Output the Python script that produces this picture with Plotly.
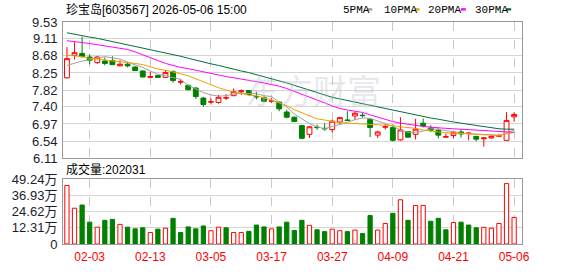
import plotly.graph_objects as go

# ---------------- data ----------------
dates = ['01-29', '01-30', '02-02', '02-03', '02-04', '02-05', '02-06', '02-09', '02-10', '02-11',
         '02-12', '02-13', '02-24', '02-25', '02-26', '02-27', '03-02', '03-03', '03-04', '03-05',
         '03-06', '03-09', '03-10', '03-11', '03-12', '03-13', '03-16', '03-17', '03-18', '03-19',
         '03-20', '03-23', '03-24', '03-25', '03-26', '03-27', '03-30', '03-31', '04-01', '04-02',
         '04-03', '04-07', '04-08', '04-09', '04-10', '04-13', '04-14', '04-15', '04-16', '04-17',
         '04-20', '04-21', '04-22', '04-23', '04-24', '04-27', '04-28', '04-29', '04-30', '05-06']

opens = [8.13, 8.69, 8.74, 8.65, 8.51, 8.55, 8.56, 8.43, 8.47, 8.40,
         8.30, 8.14, 8.19, 8.14, 8.28, 8.02, 7.94, 7.87, 7.62, 7.52,
         7.51, 7.62, 7.68, 7.78, 7.81, 7.66, 7.63, 7.54, 7.52, 7.27,
         7.14, 6.93, 6.71, 6.89, 6.86, 6.83, 7.02, 7.07, 7.17, 7.19,
         7.09, 6.69, 6.89, 6.88, 6.57, 6.78, 6.71, 6.99, 6.87, 6.81,
         6.64, 6.68, 6.77, 6.73, 6.66, 6.60, 6.62, 6.66, 6.56, 7.15]
highs = [8.90, 9.03, 9.16, 8.72, 8.68, 8.64, 8.67, 8.57, 8.53, 8.42,
         8.32, 8.28, 8.20, 8.32, 8.32, 8.09, 7.96, 7.90, 7.65, 7.61,
         7.70, 7.72, 7.86, 7.84, 7.81, 7.78, 7.67, 7.62, 7.53, 7.33,
         7.16, 6.95, 6.91, 6.95, 6.99, 7.08, 7.15, 7.29, 7.27, 7.25,
         7.11, 6.80, 6.97, 6.96, 7.14, 6.78, 7.10, 7.11, 6.94, 6.86,
         6.73, 6.79, 6.84, 6.76, 6.66, 6.63, 6.69, 6.72, 7.27, 7.26]
lows = [8.11, 8.59, 8.64, 8.47, 8.48, 8.44, 8.45, 8.42, 8.39, 8.30,
        8.14, 8.13, 8.13, 8.12, 8.01, 7.96, 7.82, 7.60, 7.40, 7.46,
        7.48, 7.57, 7.67, 7.70, 7.69, 7.59, 7.52, 7.50, 7.29, 7.11,
        7.02, 6.59, 6.62, 6.82, 6.80, 6.76, 6.95, 7.06, 7.07, 7.13,
        6.64, 6.62, 6.83, 6.53, 6.55, 6.63, 6.58, 6.88, 6.77, 6.61,
        6.63, 6.61, 6.63, 6.56, 6.54, 6.40, 6.60, 6.64, 6.55, 7.03]
closes = [8.61, 8.76, 8.66, 8.57, 8.65, 8.49, 8.46, 8.47, 8.43, 8.31,
          8.15, 8.16, 8.14, 8.26, 8.06, 8.03, 7.83, 7.66, 7.46, 7.53,
          7.64, 7.63, 7.78, 7.80, 7.71, 7.65, 7.54, 7.55, 7.35, 7.14,
          7.03, 6.61, 6.90, 6.88, 6.85, 7.04, 7.13, 7.06, 7.24, 7.18,
          6.88, 6.77, 6.90, 6.56, 6.82, 6.64, 6.84, 6.92, 6.81, 6.69,
          6.65, 6.75, 6.72, 6.74, 6.59, 6.62, 6.66, 6.68, 7.06, 7.21]

# volume in 万 (10k)
volume_wan = [44.5, 27.2, 29.6, 16.6, 12.8, 18.0, 18.7, 14.9, 12.8, 11.5,
              12.3, 8.7, 11.3, 12.0, 19.5, 8.7, 13.0, 11.5, 13.7, 10.1,
              12.8, 12.3, 8.7, 8.7, 9.6, 14.4, 13.0, 11.5, 13.0, 16.6,
              10.3, 18.0, 14.2, 10.8, 9.4, 11.3, 10.1, 9.4, 10.6, 7.9,
              21.6, 10.6, 15.6, 23.3, 33.6, 18.0, 29.3, 29.3, 17.3, 19.5,
              10.8, 16.3, 16.6, 14.4, 12.3, 12.7, 12.0, 15.6, 45.9, 20.2031]
# 1 = red (up) volume bar, 0 = green (down)
volume_up = [1, 1, 0, 0, 1, 0, 0, 1, 0, 0,
             0, 1, 0, 1, 0, 0, 0, 0, 0, 1,
             1, 0, 1, 1, 0, 0, 0, 1, 0, 0,
             0, 0, 1, 0, 0, 1, 1, 0, 1, 0,
             0, 1, 1, 0, 1, 0, 1, 1, 0, 0,
             0, 1, 0, 0, 0, 1, 1, 1, 1, 1]

ma5 = [8.44, 8.50, 8.55, 8.58, 8.63, 8.66, 8.63, 8.60, 8.52, 8.46,
       8.39, 8.30, 8.22, 8.18, 8.14, 8.09, 7.94, 7.85, 7.76, 7.70,
       7.67, 7.68, 7.72, 7.74, 7.74, 7.73, 7.68, 7.66, 7.52, 7.40,
       7.22, 7.10, 6.98, 6.90, 6.85, 6.91, 6.96, 7.01, 7.08, 7.12,
       7.11, 7.05, 6.98, 6.91, 6.82, 6.76, 6.76, 6.79, 6.85, 6.84,
       6.80, 6.78, 6.74, 6.72, 6.71, 6.71, 6.69, 6.67, 6.74, 6.82]
ma10 = [8.70, 8.68, 8.66, 8.62, 8.60, 8.58, 8.55, 8.53, 8.52, 8.49,
        8.46, 8.40, 8.35, 8.32, 8.28, 8.23, 8.18, 8.10, 8.03, 7.96,
        7.88, 7.82, 7.77, 7.74, 7.69, 7.68, 7.63, 7.57, 7.50, 7.43,
        7.33, 7.25, 7.16, 7.10, 7.07, 7.03, 7.00, 6.99, 6.98, 6.97,
        6.96, 6.96, 6.95, 6.93, 6.90, 6.88, 6.86, 6.82, 6.79, 6.77,
        6.75, 6.74, 6.73, 6.72, 6.72, 6.71, 6.70, 6.69, 6.72, 6.76]
ma20 = [9.06, 9.04, 9.02, 8.99, 8.96, 8.93, 8.90, 8.87, 8.84, 8.78,
        8.71, 8.63, 8.55, 8.49, 8.44, 8.39, 8.36, 8.32, 8.27, 8.23,
        8.19, 8.16, 8.13, 8.10, 8.07, 8.03, 8.00, 7.96, 7.92, 7.86,
        7.79, 7.72, 7.66, 7.58, 7.50, 7.42, 7.36, 7.32, 7.29, 7.26,
        7.20, 7.14, 7.08, 7.03, 6.99, 6.96, 6.93, 6.91, 6.89, 6.87,
        6.86, 6.85, 6.84, 6.83, 6.81, 6.80, 6.79, 6.78, 6.77, 6.76]
ma30 = [9.26, 9.22, 9.19, 9.15, 9.12, 9.08, 9.05, 9.01, 8.97, 8.92,
        8.88, 8.84, 8.80, 8.76, 8.71, 8.67, 8.62, 8.57, 8.52, 8.48,
        8.44, 8.39, 8.35, 8.30, 8.26, 8.21, 8.16, 8.11, 8.06, 8.00,
        7.94, 7.88, 7.82, 7.76, 7.69, 7.64, 7.60, 7.56, 7.52, 7.48,
        7.44, 7.40, 7.35, 7.31, 7.28, 7.24, 7.20, 7.16, 7.12, 7.09,
        7.05, 7.02, 6.99, 6.96, 6.93, 6.90, 6.87, 6.85, 6.84, 6.84]

price_ticks = [9.53, 9.11, 8.68, 8.25, 7.82, 7.40, 6.97, 6.54, 6.11]
price_ticktext = ['9.53', '9.11', '8.68', '8.25', '7.82', '7.40', '6.97', '6.54', '6.11']
vol_ticks = [0, 12.31, 24.62, 36.93, 49.24]
vol_ticktext = ['0', '12.31万', '24.62万', '36.93万', '49.24万']
date_ticks = ['02-03', '02-13', '03-05', '03-17', '03-27', '04-09', '04-21', '05-06']

ma_names = ['5PMA', '10PMA', '20PMA', '30PMA']
title_text = '珍宝岛[603567] 2026-05-06 15:00'
vol_title = '成交量:202031'

# ---------------- style ----------------
W, H = 578, 276
ML, MR, MT, MB = 56, 56, 22, 21
RED = '#ff0000'
GREEN = '#008000'
MA_COLORS = ['#a0a0a0', '#f0a000', '#ff00ff', '#00703c']
GRID = '#d4d4d4'
AXIS = '#999999'
TICKC = '#1c1c2c'
FONT = 'Liberation Sans, Arial, Noto Sans CJK SC, sans-serif'

PW = W - ML - MR
PH = H - MT - MB


def px_x(x):
    return (x - ML) / PW


def px_y(y):
    return (H - MB - y) / PH


fig = go.Figure()

fig.add_trace(go.Candlestick(
    x=dates, open=opens, high=highs, low=lows, close=closes,
    increasing=dict(line=dict(color=RED, width=1), fillcolor='#ffffff'),
    decreasing=dict(line=dict(color=GREEN, width=1), fillcolor=GREEN),
    whiskerwidth=0, xaxis='x', yaxis='y', showlegend=False, hoverinfo='skip'))

for name, vals, col in zip(ma_names, [ma5, ma10, ma20, ma30], MA_COLORS):
    fig.add_trace(go.Scatter(x=dates, y=vals, mode='lines', name=name,
                             line=dict(color=col, width=1), xaxis='x', yaxis='y',
                             showlegend=False, hoverinfo='skip'))

fig.add_trace(go.Bar(
    x=dates, y=volume_wan, width=0.56,
    marker=dict(color=['#ffffff' if u else GREEN for u in volume_up],
                line=dict(color=[RED if u else GREEN for u in volume_up], width=1)),
    xaxis='x2', yaxis='y2', showlegend=False, hoverinfo='skip'))

price_dom = [px_y(165), 1]
vol_dom = [0, px_y(187)]

xcommon = dict(type='category', categoryorder='array', categoryarray=dates,
               range=[-0.52, len(dates) - 1 + 1.04],
               tickmode='array', tickvals=date_ticks,
               showgrid=True, gridcolor='#c8c8c8', griddash='dash', gridwidth=1,
               showline=True, linecolor=AXIS, linewidth=1, mirror=True,
               ticks='', zeroline=False, fixedrange=True)

fig.update_layout(
    width=W, height=H,
    margin=dict(l=ML, r=MR, t=MT, b=MB, pad=0),
    paper_bgcolor='#ffffff', plot_bgcolor='#ffffff',
    showlegend=False,
    font=dict(family=FONT, size=12, color='#000000'),
    xaxis=dict(xcommon, anchor='y', showticklabels=False, rangeslider=dict(visible=False)),
    xaxis2=dict(xcommon, anchor='y2', matches='x', showticklabels=True,
                tickfont=dict(family=FONT, size=12, color=RED), ticklabelstandoff=2),
    yaxis=dict(domain=price_dom, range=[6.11, 9.53], tickmode='array',
               tickvals=price_ticks, ticktext=price_ticktext,
               showgrid=True, gridcolor=GRID, gridwidth=1,
               showline=True, linecolor=AXIS, linewidth=1, mirror=True,
               ticks='', zeroline=False, tickfont=dict(family=FONT, size=13, color=TICKC),
               ticklabelstandoff=2),
    yaxis2=dict(domain=vol_dom, range=[0, 49.24], tickmode='array',
                tickvals=vol_ticks, ticktext=vol_ticktext,
                showgrid=True, gridcolor=GRID, gridwidth=1,
                showline=True, linecolor=AXIS, linewidth=1, mirror=True,
                ticks='', zeroline=False, tickfont=dict(family=FONT, size=13, color=TICKC),
                ticklabelstandoff=2),
    boxgap=0.2, boxgroupgap=0.2,
)

annotations = [
    dict(text=title_text, x=px_x(57), y=px_y(9), xanchor='left', yanchor='middle',
         font=dict(size=12, color='#000000')),
    dict(text=vol_title, x=px_x(57), y=px_y(177), xanchor='left', yanchor='middle',
         font=dict(size=12, color='#000000')),
    dict(text='东方财富', x=px_x(310), y=px_y(93), xanchor='center', yanchor='middle',
         font=dict(family='Noto Sans CJK SC', size=34, color='rgba(190,190,200,0.35)')),
]
legend_x = [338, 380, 425, 472]
marker_x = [365, 413, 460, 506]
shapes = []
for name, col, tx, mx in zip(ma_names, MA_COLORS, legend_x, marker_x):
    annotations.append(dict(text=name, x=px_x(tx), y=px_y(9), xanchor='left', yanchor='middle',
                            font=dict(family='Liberation Mono, monospace', size=11, color='#000000')))
    shapes.append(dict(type='rect', xref='paper', yref='paper',
                       x0=px_x(mx), x1=px_x(mx + 5), y0=px_y(10), y1=px_y(7.5),
                       fillcolor=col, line=dict(width=0)))
for a in annotations:
    a.update(xref='paper', yref='paper', showarrow=False)
fig.update_layout(annotations=annotations, shapes=shapes)

fig.write_html('out.html')
